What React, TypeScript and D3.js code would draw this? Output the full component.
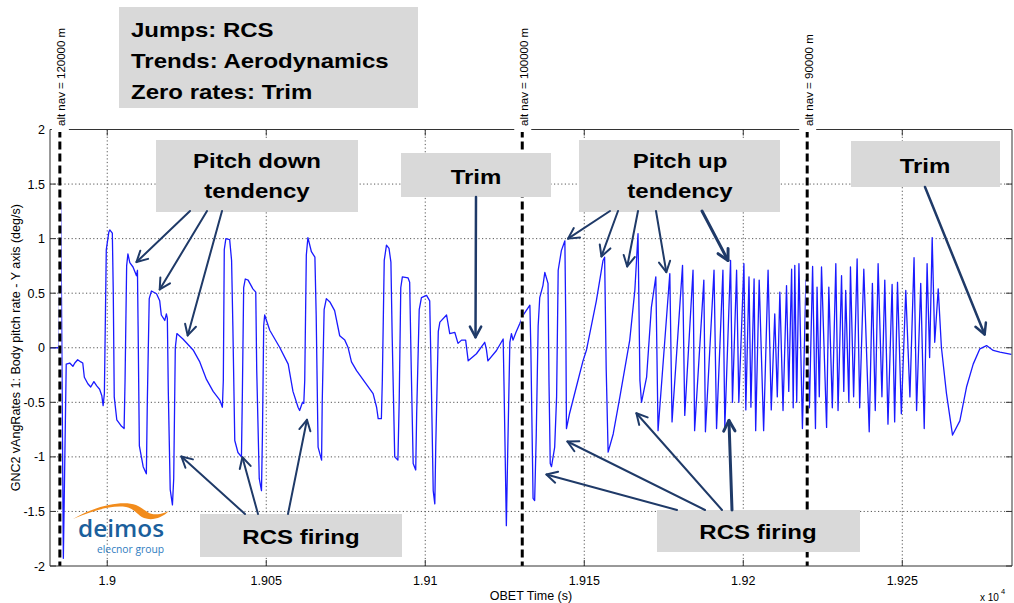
import React from "react";
import * as d3 from "d3";

// OBET time (s) and body pitch rate (deg/s) samples
const obetTime = [
  18982.0, 18984.7, 18985.4, 18986.2, 18987.1, 18988.2, 18989.2, 18989.8, 18990.7, 18991.7,
  18992.3, 18992.8, 18993.9, 18994.8, 18995.8, 18996.7, 18997.6, 18998.3, 18998.7, 18999.1,
  18999.7, 19000.5, 19000.8, 19001.6, 19001.9, 19002.2, 19003.0, 19004.5, 19005.3, 19005.6,
  19006.1, 19006.5, 19007.1, 19008.1, 19009.2, 19009.5, 19009.7, 19010.1, 19011.3, 19012.3,
  19012.6, 19013.2, 19013.9, 19015.5, 19016.5, 19017.0, 19018.1, 19018.6, 19018.9, 19019.2,
  19019.8, 19020.5, 19020.9, 19021.4, 19021.9, 19023.8, 19027.0, 19029.1, 19031.2, 19033.3,
  19035.4, 19036.2, 19036.5, 19036.8, 19037.3, 19038.5, 19039.1, 19039.5, 19040.1, 19041.1,
  19042.2, 19042.5, 19042.9, 19043.4, 19044.3, 19045.8, 19046.7, 19047.0, 19047.8, 19048.5,
  19048.8, 19049.2, 19049.5, 19051.1, 19054.2, 19056.9, 19058.4, 19060.0, 19060.5, 19061.4,
  19061.8, 19062.1, 19062.6, 19063.1, 19064.2, 19065.3, 19065.7, 19066.3, 19067.4, 19067.6,
  19068.2, 19068.9, 19070.0, 19071.5, 19073.1, 19074.7, 19075.7, 19076.8, 19078.4, 19081.0,
  19083.6, 19084.7, 19085.2, 19086.2, 19086.5, 19087.1, 19087.8, 19088.6, 19089.2, 19089.6,
  19090.4, 19091.4, 19091.8, 19092.3, 19092.8, 19094.6, 19095.1, 19095.6, 19096.2, 19097.0,
  19097.3, 19098.1, 19098.8, 19100.4, 19101.4, 19101.9, 19102.5, 19103.0, 19103.3, 19104.1,
  19104.6, 19106.7, 19107.7, 19109.3, 19110.3, 19111.4, 19112.7, 19113.5, 19116.1, 19118.7,
  19119.2, 19119.7, 19122.4, 19124.5, 19124.8, 19125.5, 19125.9, 19126.6, 19127.1, 19127.6,
  19128.5, 19129.7, 19130.8, 19132.9, 19133.2, 19133.9, 19134.4, 19134.9, 19135.5, 19136.0,
  19137.0, 19137.6, 19138.6, 19138.9, 19139.3, 19139.7, 19140.7, 19141.3, 19141.8, 19142.8,
  19143.9, 19144.2, 19144.4, 19145.4, 19147.5, 19149.6, 19150.7, 19153.8, 19155.9, 19156.4,
  19156.9, 19157.5, 19159.1, 19161.2, 19164.3, 19165.9, 19166.9, 19167.5, 19168.0, 19169.6,
  19171.1, 19172.5, 19173.2, 19176.9, 19177.6, 19180.9, 19181.6, 19184.2, 19184.7, 19187.6,
  19188.1, 19190.8, 19191.6, 19193.6, 19194.2, 19196.0, 19196.6, 19197.9, 19198.6, 19200.2,
  19200.8, 19201.8, 19202.4, 19203.4, 19203.9, 19205.0, 19206.4, 19207.8, 19208.8, 19209.9,
  19210.7, 19211.5, 19212.5, 19213.6, 19214.3, 19215.2, 19215.7, 19216.2, 19216.8, 19217.5,
  19218.6, 19219.7, 19220.8, 19221.8, 19222.7, 19223.2, 19223.9, 19224.6, 19226.2, 19226.9,
  19228.0, 19229.1, 19229.8, 19230.9, 19231.6, 19232.2, 19233.2, 19233.7, 19234.7, 19235.8,
  19236.6, 19237.9, 19239.6, 19240.6, 19241.5, 19242.4, 19243.6, 19244.5, 19245.5, 19246.8,
  19247.6, 19248.5, 19249.7, 19251.1, 19252.4, 19253.7, 19254.5, 19255.8, 19256.9, 19257.8,
  19258.6, 19259.4, 19260.2, 19261.3, 19262.3, 19263.9, 19265.8, 19268.1, 19270.2, 19272.3,
  19274.4, 19276.5, 19278.6, 19280.7, 19284.3,
];

const pitchRate = [
  0.0, 0.0, 1.32, -1.93, -0.15, -0.14, -0.17, -0.14, -0.11, -0.13,
  -0.14, -0.27, -0.33, -0.36, -0.31, -0.35, -0.38, -0.44, -0.53, -0.42,
  0.9, 1.06, 1.08, 1.05, 0.5, -0.45, -0.66, -0.72, -0.74, -0.3,
  0.75, 0.86, 0.78, 0.74, 0.66, 0.71, 0.2, -0.9, -1.09, -1.155,
  -0.5, 0.45, 0.52, 0.495, 0.43, 0.3, 0.25, 0.31, 0.27, -0.4,
  -1.3, -1.44, -1.2, 0.0, 0.13, 0.08, -0.02, -0.13, -0.29, -0.4,
  -0.48, -0.545, -0.3, 0.9, 1.0, 0.99, 0.8, 0.2, -0.85, -0.96,
  -1.0, -0.4, 0.55, 0.63, 0.62, 0.54, 0.51, -0.2, -1.2, -1.31,
  -0.8, 0.2, 0.3, 0.16, 0.005, -0.15, -0.4, -0.545, -0.575, -0.5,
  -0.51, -0.3, 0.85, 1.01, 0.88, 0.83, 0.3, -0.91, -1.03, -0.5,
  0.35, 0.45, 0.42, 0.34, 0.11, 0.07, 0.005, -0.13, -0.21, -0.315,
  -0.42, -0.545, -0.65, -0.65, -0.3, 0.8, 0.94, 0.91, 0.785, 0.1,
  -1.0, -1.03, -0.5, 0.55, 0.65, 0.64, 0.6, -0.2, -1.06, -1.12,
  -0.6, 0.35, 0.46, 0.48, 0.43, -0.3, -1.31, -1.43, -0.9, 0.15,
  0.235, 0.3, 0.13, 0.14, 0.04, 0.07, 0.07, -0.12, -0.055, 0.05,
  -0.01, -0.12, -0.025, 0.08, -0.4, -1.63, -1.0, 0.05, 0.13, 0.07,
  0.14, 0.22, 0.3, 0.39, 0.0, -1.38, -1.4, -0.8, 0.2, 0.46,
  0.57, 0.69, 0.59, -0.3, -1.06, -1.09, -0.91, -0.45, 0.71, 0.89,
  0.98, 0.2, -0.74, -0.6, -0.36, -0.12, -0.02, 0.43, 0.8, 0.83,
  -0.2, -0.957, -0.79, -0.45, 0.07, 0.525, 1.045, -0.3, -0.5, -0.27,
  0.37, 0.65, -0.76, 0.68, -0.68, 0.755, -0.62, 0.71, -0.76, 0.62,
  -0.77, 0.71, -0.74, 0.71, -0.73, 0.8, -0.5, 0.71, -0.5, 0.77,
  -0.57, 0.65, -0.545, 0.63, -0.76, 0.62, -0.76, 0.71, -0.57, 0.31,
  -0.45, 0.51, -0.575, 0.57, -0.4, 0.72, -0.55, 0.755, -0.5, 0.77,
  -0.74, 0.62, -0.55, 0.745, -0.74, 0.555, -0.45, 0.74, -0.73, 0.555,
  -0.55, 0.77, -0.575, 0.66, -0.4, 0.525, -0.5, 0.74, -0.45, 0.815,
  -0.55, 0.72, -0.77, 0.59, -0.575, 0.77, -0.45, 0.62, -0.7, 0.58,
  -0.68, 0.6, -0.605, 0.525, -0.45, 0.825, -0.575, 0.59, -0.74, 0.77,
  -0.09, 1.01, 0.05, 0.54, 0.005, -0.42, -0.8, -0.67, -0.36, -0.15,
  -0.01, 0.02, -0.025, -0.04, -0.06,
];

// Navigation altitude events
const altNavTimes = [18985.1, 19130.5, 19220.1];
const altNavLabels = ["alt nav = 120000 m", "alt nav = 100000 m", "alt nav = 90000 m"];

// Axis ticks
const xTicks = [19000, 19050, 19100, 19150, 19200, 19250];
const xTickLabels = ["1.9", "1.905", "1.91", "1.915", "1.92", "1.925"];
const yTicks = [2, 1.5, 1, 0.5, 0, -0.5, -1, -1.5, -2];
const yTickLabels = ["2", "1.5", "1", "0.5", "0", "-0.5", "-1", "-1.5", "-2"];

// Callout boxes
const callouts = [
  { x: 119, y: 7, w: 299, h: 101, lines: ["Jumps: RCS", "Trends: Aerodynamics", "Zero rates: Trim"], tx: 131, anchor: "start", baselines: [37, 68, 99] },
  { x: 156, y: 140, w: 202, h: 72, lines: ["Pitch down", "tendency"], tx: 257, anchor: "middle", baselines: [168, 198] },
  { x: 401, y: 153, w: 150, h: 44, lines: ["Trim"], tx: 476, anchor: "middle", baselines: [184] },
  { x: 579, y: 140, w: 201, h: 72, lines: ["Pitch up", "tendency"], tx: 680, anchor: "middle", baselines: [168, 198] },
  { x: 851, y: 141, w: 149, h: 46, lines: ["Trim"], tx: 925, anchor: "middle", baselines: [173] },
  { x: 200, y: 514, w: 202, h: 43, lines: ["RCS firing"], tx: 301, anchor: "middle", baselines: [544] },
  { x: 657, y: 510, w: 203, h: 42, lines: ["RCS firing"], tx: 758, anchor: "middle", baselines: [539] },
];

// Arrows: tail on a callout box, tip at a (time, rate) point of the signal
const arrows = [
  { fx: 190, fy: 211, t: 19009.2, v: 0.785, w: 2 },
  { fx: 207, fy: 211, t: 19016.5, v: 0.534, w: 2 },
  { fx: 222, fy: 211, t: 19025.3, v: 0.113, w: 2 },
  { fx: 476, fy: 197, t: 19115.8, v: 0.097, w: 2.5 },
  { fx: 610, fy: 211, t: 19144.9, v: 1.0, w: 2 },
  { fx: 618, fy: 211, t: 19155.4, v: 0.837, w: 2 },
  { fx: 638, fy: 211, t: 19163.5, v: 0.745, w: 2 },
  { fx: 656, fy: 211, t: 19175.8, v: 0.693, w: 2 },
  { fx: 702, fy: 211, t: 19195.2, v: 0.8, w: 3 },
  { fx: 925, fy: 187, t: 19275.9, v: 0.122, w: 2.5 },
  { fx: 245, fy: 514, t: 19023.3, v: -0.996, w: 2 },
  { fx: 258, fy: 514, t: 19042.5, v: -1.003, w: 2 },
  { fx: 288, fy: 514, t: 19062.8, v: -0.66, w: 2 },
  { fx: 677, fy: 510, t: 19138.1, v: -1.161, w: 2 },
  { fx: 705, fy: 510, t: 19144.7, v: -0.859, w: 2 },
  { fx: 722, fy: 510, t: 19166.4, v: -0.6, w: 2 },
  { fx: 732, fy: 510, t: 19195.5, v: -0.666, w: 3 },
];

const W = 1014;
const H = 603;
const L = 50;
const R = 1012;
const T = 129.5;
const B = 566;
const FONT = "'Liberation Sans', Arial, Helvetica, sans-serif";
const ARROW = "#1f3a68";

export default function App() {
  const x = d3.scaleLinear().domain([18982, 19284.5]).range([L, R]);
  const y = d3.scaleLinear().domain([-2, 2]).range([B, T]);

  const pts: [number, number][] = obetTime.map((t, i) => [t, pitchRate[i]]);
  const line = d3
    .line<[number, number]>()
    .x((d) => x(d[0]))
    .y((d) => y(d[1]));

  const arrowHead = (x1: number, y1: number, x2: number, y2: number) => {
    const a = Math.atan2(y2 - y1, x2 - x1);
    const len = 12;
    const phi = (28 * Math.PI) / 180;
    const p1 = [x2 - len * Math.cos(a - phi), y2 - len * Math.sin(a - phi)];
    const p2 = [x2 - len * Math.cos(a + phi), y2 - len * Math.sin(a + phi)];
    return `M${p1[0]},${p1[1]} L${x2},${y2} L${p2[0]},${p2[1]}`;
  };

  return (
    <svg
      width={W}
      height={H}
      style={{ position: "absolute", left: 0, top: 0, display: "block", background: "#fff" }}
      fontFamily={FONT}
    >
      <rect x={0} y={0} width={W} height={H} fill="#fff" />
      <defs>
        <clipPath id="plotClip">
          <rect x={L} y={T} width={R - L} height={B - T} />
        </clipPath>
      </defs>

      {/* grid */}
      <g stroke="#444" strokeWidth={0.9} strokeDasharray="1.2,2.4">
        {xTicks.map((t) => (
          <line key={`gx${t}`} x1={x(t)} x2={x(t)} y1={T} y2={B} />
        ))}
        {yTicks
          .filter((v) => v !== 2 && v !== -2)
          .map((v) => (
            <line key={`gy${v}`} x1={L} x2={R} y1={y(v)} y2={y(v)} />
          ))}
      </g>

      {/* signal */}
      <path
        d={line(pts) || ""}
        fill="none"
        stroke="#1a1aff"
        strokeWidth={1.3}
        strokeLinejoin="round"
        clipPath="url(#plotClip)"
      />

      {/* altitude event lines */}
      {altNavTimes.map((t, i) => (
        <g key={`alt${i}`}>
          <line x1={x(t)} x2={x(t)} y1={T} y2={B} stroke="#fff" strokeWidth={3} />
          <line x1={x(t)} x2={x(t)} y1={T} y2={B} stroke="#000" strokeWidth={3} strokeDasharray="8,4" />
        </g>
      ))}

      {/* axes box */}
      <g stroke="#333" strokeWidth={1} fill="none">
        <line x1={L} x2={L} y1={T} y2={B} />
        <line x1={R} x2={R} y1={T} y2={B} />
        <line x1={L} x2={R} y1={B} y2={B} />
        <line x1={L} x2={R} y1={T} y2={T} />
      </g>
      {/* ticks */}
      <g stroke="#333" strokeWidth={1}>
        {xTicks.map((t) => (
          <g key={`tx${t}`}>
            <line x1={x(t)} x2={x(t)} y1={B} y2={B - 6} />
            <line x1={x(t)} x2={x(t)} y1={T} y2={T + 6} />
          </g>
        ))}
        {yTicks.map((v) => (
          <g key={`ty${v}`}>
            <line x1={L} x2={L + 6} y1={y(v)} y2={y(v)} />
            <line x1={R} x2={R - 6} y1={y(v)} y2={y(v)} />
          </g>
        ))}
      </g>

      {/* altitude event labels */}
      {altNavTimes.map((t, i) => (
        <g key={`altl${i}`}>
          <rect x={x(t) - 8} y={14} width={17} height={118} fill="#fff" />
          <text
            transform={`translate(${x(t) + 5.5},126) rotate(-90)`}
            fontSize={11.5}
            fill="#000"
          >
            {altNavLabels[i]}
          </text>
        </g>
      ))}

      {/* tick labels */}
      <g fontSize={12.5} fill="#000">
        {xTicks.map((t, i) => (
          <text key={`xl${t}`} x={x(t)} y={585} textAnchor="middle">
            {xTickLabels[i]}
          </text>
        ))}
        {yTicks.map((v, i) => (
          <text key={`yl${v}`} x={45} y={y(v) + 4.5} textAnchor="end">
            {yTickLabels[i]}
          </text>
        ))}
      </g>
      <text x={(L + R) / 2} y={600} textAnchor="middle" fontSize={12.5}>
        OBET Time (s)
      </text>
      <text x={980} y={601} fontSize={10}>
        x 10
      </text>
      <text x={1001} y={594} fontSize={7.5}>
        4
      </text>
      <text
        transform={`translate(19.5,${(T + B) / 2}) rotate(-90)`}
        textAnchor="middle"
        fontSize={12.5}
      >
        GNC2 vAngRates 1: Body pitch rate - Y axis (deg/s)
      </text>

      {/* logo */}
      <g>
        <path
          d="M73,519 C95,506 122,500 136,505 C146,509 147,516 160,514 C164,513 167,512 169,511 C162,518 152,521 144,518 C137,515 135,509 126,507 C110,505 92,511 73,519 Z"
          fill="#f28c1c"
        />
        <text
          x={78}
          y={537}
          fontSize={23}
          fill="#1b5f9c"
          fontFamily="'Open Sans', 'DejaVu Sans', sans-serif"
          fontWeight={600}
          textLength={86}
          lengthAdjust="spacingAndGlyphs"
        >
          deimos
        </text>
        <text
          x={97}
          y={553}
          fontSize={10.5}
          fill="#2f7cc0"
          fontFamily="'Open Sans', 'DejaVu Sans', sans-serif"
          textLength={67}
          lengthAdjust="spacingAndGlyphs"
        >
          elecnor group
        </text>
      </g>

      {/* callouts */}
      {callouts.map((c, i) => (
        <g key={`c${i}`}>
          <rect x={c.x} y={c.y} width={c.w} height={c.h} fill="#d9d9d9" />
          {c.lines.map((s, j) => (
            <text
              key={j}
              transform={`translate(${c.tx},${c.baselines[j]}) scale(1.2,1)`}
              textAnchor={c.anchor}
              fontSize={20}
              fontWeight="bold"
              fill="#000"
            >
              {s}
            </text>
          ))}
        </g>
      ))}

      {/* arrows */}
      <g fill="none" stroke={ARROW} strokeLinecap="round" strokeLinejoin="round">
        {arrows.map((a, i) => {
          const tx = x(a.t);
          const ty = y(a.v);
          return (
            <g key={`a${i}`} strokeWidth={a.w}>
              <line x1={a.fx} y1={a.fy} x2={tx} y2={ty} />
              <path d={arrowHead(a.fx, a.fy, tx, ty)} />
            </g>
          );
        })}
      </g>
    </svg>
  );
}
